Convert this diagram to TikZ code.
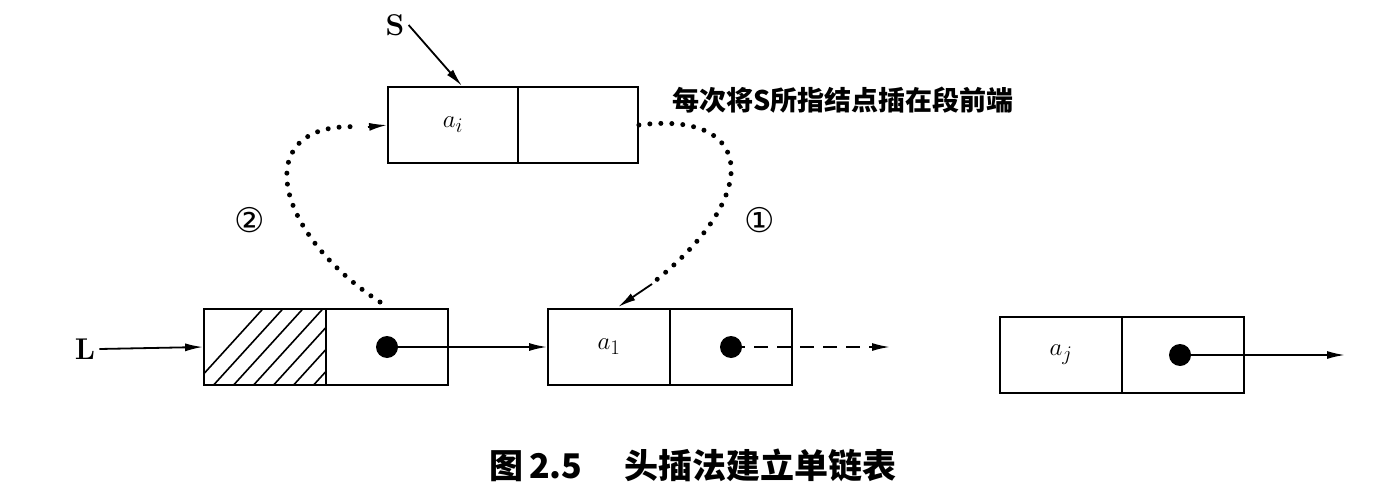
\documentclass[tikz,border=0pt]{standalone}
\usepackage{fontspec}
\newfontfamily\cjk{Noto Sans CJK SC}
\newfontfamily\dv{DejaVu Sans}
\usetikzlibrary{arrows.meta}
\begin{document}
\begin{tikzpicture}[x=1pt,y=-1pt,line width=1.8pt,
  box/.style={draw,minimum width=122pt,minimum height=76pt,inner sep=0pt},
  dotc/.style={circle,fill,inner sep=0pt,minimum size=22pt},
  arr/.style={-{Latex[length=18pt,width=8pt]}},
  lab/.style={font=\fontsize{30}{30}\selectfont},
  dots/.style={line width=5pt,line cap=round,dash pattern=on 0pt off 11pt}]
\useasboundingbox (0,0) rectangle (1386,500);
% top node
\node[box,minimum width=130pt,lab] (ta) at (453,125) {$a_i$};
\node[box,minimum width=120pt] (tb) at (578,125) {};
\node[lab] (S) at (395,25) {\bfseries S};
\draw[arr] (S.east) -- (462,86);
\node[anchor=west] (note) at (668,100) {\cjk\bfseries\fontsize{27}{27}\selectfont 每次将S所指结点插在段前端};
% head node
\node[box] (ha) at (265,347) {};
\begin{scope}
\clip (ha.south west) rectangle (ha.north east);
\foreach \i in {0,...,14} \draw[line width=1.6pt] (180+\i*20,400) -- (280+\i*20,290);
\end{scope}
\node[box] (ha2) at (265,347) {};
\node[box] (hb) at (387,347) {};
\node[dotc] (hd) at (387,347) {};
\node[lab] (L) at (85,349) {\bfseries L};
\draw[arr] (L.east) -- (ha.west);
% a1 node
\node[box,lab] (aa) at (609,347) {$a_1$};
\node[box] (ab) at (731,347) {};
\node[dotc] (ad) at (731,347) {};
\draw[arr] (hd.center) -- (aa.west);
\coordinate (dend) at (890,347);
\draw[arr,dash pattern=on 14pt off 9pt] (ad.center) -- (dend);
% aj node
\node[box,lab] (ja) at (1061,355) {$a_j$};
\node[box] (jb) at (1183,355) {};
\node[dotc] (jd) at (1180,355) {};
\coordinate (jend) at (1345,355);
\draw[arr] (jd.center) -- (jend);
% dotted curves
\coordinate (c2s) at (380,302);
\coordinate (c1e) at (618,307);
\draw[dots] (c2s) .. controls (270,230) and (250,120) .. (360,127);
\draw[arr] (368,127) -- (ta.west);
\draw[dots] (tb.east) .. controls (760,110) and (760,200) .. (650,285);
\draw[arr] (652,284) -- (c1e);
\node (n2) at (250,220) {\dv\fontsize{34}{34}\selectfont ②};
\node (n1) at (760,220) {\dv\fontsize{34}{34}\selectfont ①};
% caption
\node (cap) at (693,465) {\cjk\bfseries\fontsize{34}{34}\selectfont 图\,2.5\quad\ 头插法建立单链表};
\end{tikzpicture}
\end{document}
